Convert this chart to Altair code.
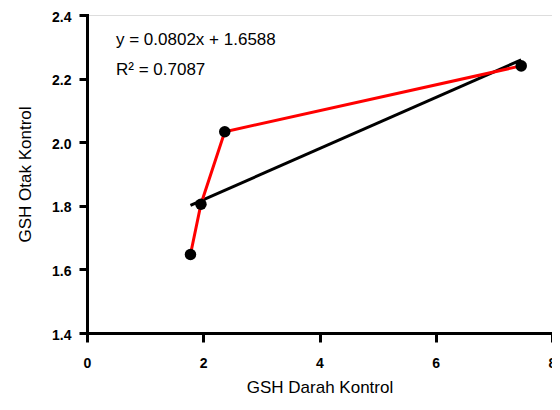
import altair as alt
import pandas as pd

# data
x_vals = [1.78, 1.96, 2.37, 7.47]
y_vals = [1.647, 1.805, 2.033, 2.240]
x_ticks = [0, 2, 4, 6, 8]
y_ticks = [1.4, 1.6, 1.8, 2.0, 2.2, 2.4]
eq_lines = ["y = 0.0802x + 1.6588", "R² = 0.7087"]
x_title = "GSH Darah Kontrol"
y_title = "GSH Otak Kontrol"

df = pd.DataFrame({"x": x_vals, "y": y_vals, "order": list(range(len(x_vals)))})

FONT = "Liberation Sans"
W, H = 465, 318

xs = alt.Scale(domain=[0, 8], nice=False, zero=False)
ys = alt.Scale(domain=[1.4, 2.4], nice=False, zero=False)

x_axis = alt.Axis(
    values=x_ticks, format="d", title=x_title, grid=False,
    domainColor="black", domainWidth=3, domainCap="square",
    tickColor="black", tickWidth=3, tickSize=9,
    labelFont=FONT, labelFontSize=14, labelFontWeight="bold", labelColor="black",
    labelPadding=14, labelFlush=False, labelOverlap=False,
    titleFont=FONT, titleFontSize=17, titleFontWeight="normal", titleColor="black",
    titleX=W / 2, titleY=59, titleBaseline="alphabetic",
)
y_axis = alt.Axis(
    values=y_ticks, format=".1f", title=y_title, grid=False,
    domainColor="black", domainWidth=3, domainCap="square",
    tickColor="black", tickWidth=3, tickSize=8,
    labelFont=FONT, labelFontSize=14, labelFontWeight="bold", labelColor="black",
    labelPadding=8, labelOffset=2, labelFlush=False, labelOverlap=False,
    titleFont=FONT, titleFontSize=17, titleFontWeight="normal", titleColor="black",
    titleX=-57, titleY=H / 2, titleBaseline="alphabetic",
)

X = alt.X("x:Q", scale=xs, axis=x_axis)
Y = alt.Y("y:Q", scale=ys, axis=y_axis)

base = alt.Chart(df)

reg = base.transform_regression("x", "y").mark_line(
    color="black", strokeWidth=3
).encode(x=X, y=Y)

red = base.mark_line(color="#FF0000", strokeWidth=3).encode(
    x=X, y=Y, order="order:Q"
)

pts = base.mark_circle(size=133, color="black", opacity=1).encode(x=X, y=Y)

texts = []
for i, line in enumerate(eq_lines):
    texts.append(
        alt.Chart(pd.DataFrame({"t": [line]})).mark_text(
            align="left", baseline="alphabetic", font=FONT, fontSize=17,
            color="black",
        ).encode(x=alt.value(29), y=alt.value(30 + 30 * i), text="t:N")
    )

chart = alt.layer(reg, red, pts, *texts).properties(
    width=W, height=H,
    autosize=alt.AutoSizeParams(type="none"),
    padding={"left": 79, "top": 7, "right": 0, "bottom": 64},
).configure_view(stroke=None).configure(background="white")

chart.save("out.html", embed_options={"renderer": "svg", "actions": False})
